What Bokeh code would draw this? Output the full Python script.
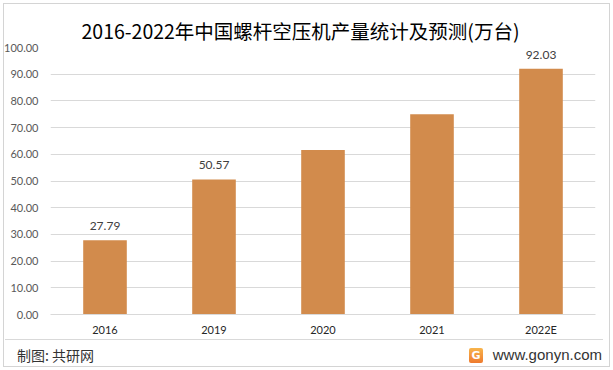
from bokeh.plotting import figure
from bokeh.models import (ColumnDataSource, FactorRange, Range1d, NumeralTickFormatter, FixedTicker,
                          Title, InlineStyleSheet, Div)
from bokeh.layouts import column
from bokeh.core.properties import value
from bokeh.embed import file_html
from bokeh.resources import INLINE

# ---- data ----
years = ["2016", "2019", "2020", "2021", "2022E"]
output = [27.79, 50.57, 61.6, 75.0, 92.03]
label_text = ["27.79", "50.57", "", "", "92.03"]
y_ticks = [0, 10, 20, 30, 40, 50, 60, 70, 80, 90, 100]

title_text = "2016-2022年中国螺杆空压机产量统计及预测(万台)"
source_text = "制图: 共研网"
site_text = "www.gonyn.com"

BAR = "#D28B4C"
GRID = "#d9d9d9"
CJK = "Noto Sans CJK SC"
NUM = "Lato"

src = ColumnDataSource(dict(x=years, y=output, t=label_text))

p = figure(width=613, height=338, x_range=FactorRange(*years), y_range=Range1d(0, 100),
           output_backend="svg", toolbar_location=None,
           min_border_left=50, min_border_right=18, min_border_top=47, min_border_bottom=23)
p.outline_line_color = None
p.background_fill_color = None
p.border_fill_color = None

p.title = Title(text=title_text, align="left", offset=31, text_font=CJK, text_font_size="19.5px",
                text_font_style="normal", text_color="#000000", standoff=5)

p.vbar(x="x", top="y", width=0.4, source=src, color=BAR, line_color=None)
p.text(x="x", y="y", text="t", source=src, text_font=value(NUM), text_font_size="12px",
       text_color="#404040", text_align="center", text_baseline="middle", y_offset=-14)

p.xgrid.grid_line_color = None
p.ygrid.grid_line_color = GRID
p.ygrid.ticker = FixedTicker(ticks=y_ticks)

p.yaxis.ticker = FixedTicker(ticks=y_ticks)
p.yaxis.formatter = NumeralTickFormatter(format="0.00")
p.yaxis.axis_line_color = None
p.yaxis.major_tick_line_color = None
p.yaxis.minor_tick_line_color = None
p.yaxis.major_tick_out = 0
p.yaxis.minor_tick_out = 0
p.yaxis.major_label_standoff = 12
p.yaxis.major_label_text_font = NUM
p.yaxis.major_label_text_font_size = "11px"
p.yaxis.major_label_text_color = "#595959"

p.xaxis.axis_line_color = GRID
p.xaxis.major_tick_line_color = None
p.xaxis.minor_tick_line_color = None
p.xaxis.major_tick_out = 0
p.xaxis.minor_tick_out = 0
p.xaxis.major_label_standoff = 8
p.xaxis.major_label_text_font = NUM
p.xaxis.major_label_text_font_size = "11px"
p.xaxis.major_label_text_color = "#262626"

# ---- footer ----
footer_html = f"""
<div style="position:relative;width:613px;height:32px;">
  <div style="position:absolute;left:5px;top:1px;width:598px;height:1px;background:#d9d9d9;"></div>
  <div style="position:absolute;left:17px;top:7px;font-family:'{CJK}';font-size:14px;line-height:20px;color:#333333;white-space:nowrap;">{source_text}</div>
  <div style="position:absolute;left:469px;top:10px;width:14px;height:15px;border-radius:2px;
              background:linear-gradient(#F8B54C,#EE7A2E);color:#ffffff;font-family:'DejaVu Sans';
              font-weight:bold;font-size:11px;line-height:15px;text-align:center;">G</div>
  <div style="position:absolute;right:11px;top:7px;font-family:'Liberation Sans';font-size:15px;line-height:20px;color:#333333;white-space:nowrap;">{site_text}</div>
</div>
"""
f = Div(text=footer_html, width=613, height=32, margin=0)

frame_css = InlineStyleSheet(css=":host { outline: 1px solid #d4d4d4; outline-offset: -4px; background: #ffffff; }")
layout = column(p, f, spacing=0, stylesheets=[frame_css])
open("out.html", "w").write(file_html(layout, INLINE))
